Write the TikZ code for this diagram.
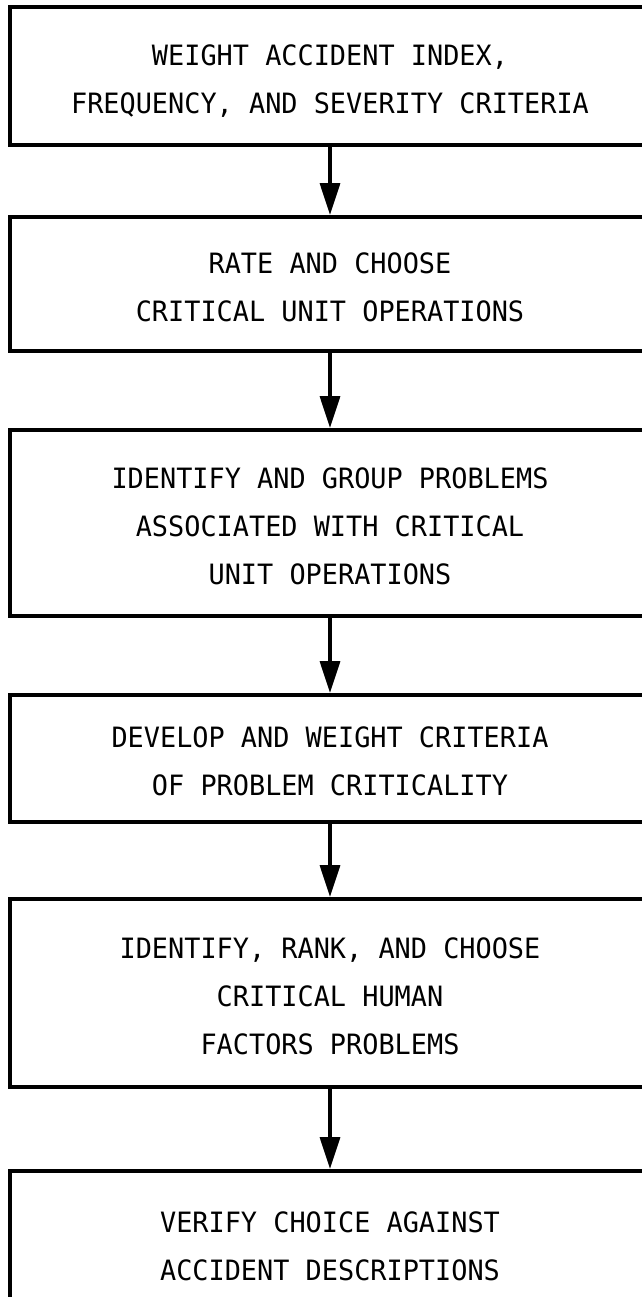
\documentclass[tikz,border=0pt]{standalone}
\usepackage{fontspec}
\setmonofont[FakeStretch=0.96]{DejaVu Sans Mono}
\usetikzlibrary{arrows.meta}
% raises the top of the first text line so the lines sit a little low in each box
\newcommand\stepstrut{\rule{0pt}{13.2pt}}
\begin{document}
\begin{tikzpicture}[x=0.5pt,y=-0.5pt,
  stepbox/.style={draw, line width=2pt, rectangle, minimum width=320.5pt,
    align=center, inner sep=0pt, text depth=0pt,
    font=\ttfamily\fontsize{14}{24}\selectfont},
  flow/.style={line width=1.7pt, -{Triangle[length=16pt,width=10pt]}}]
\useasboundingbox (0,0) rectangle (642,1297);
\clip (0,0) rectangle (642,1297);

% process steps, top to bottom
\node[stepbox, minimum height=69pt] (b1) at (330,76)
  {\stepstrut WEIGHT ACCIDENT INDEX,\\FREQUENCY, AND SEVERITY CRITERIA};
\node[stepbox, minimum height=67pt] (b2) at (330,284)
  {\stepstrut RATE AND CHOOSE\\CRITICAL UNIT OPERATIONS};
\node[stepbox, minimum height=93pt] (b3) at (330,523)
  {\stepstrut IDENTIFY AND GROUP PROBLEMS\\ASSOCIATED WITH CRITICAL\\UNIT OPERATIONS};
\node[stepbox, minimum height=63.5pt] (b4) at (330,758.5)
  {\stepstrut DEVELOP AND WEIGHT CRITERIA\\OF PROBLEM CRITICALITY};
\node[stepbox, minimum height=94pt] (b5) at (330,993)
  {\stepstrut IDENTIFY, RANK, AND CHOOSE\\CRITICAL HUMAN\\FACTORS PROBLEMS};
\node[stepbox, minimum height=72pt] (b6) at (330,1243)
  {\stepstrut VERIFY CHOICE AGAINST\\ACCIDENT DESCRIPTIONS};

% connectors
\draw[flow] (b1.south) -- (b2.north);
\draw[flow] (b2.south) -- (b3.north);
\draw[flow] (b3.south) -- (b4.north);
\draw[flow] (b4.south) -- (b5.north);
\draw[flow] (b5.south) -- (b6.north);
\end{tikzpicture}
\end{document}
